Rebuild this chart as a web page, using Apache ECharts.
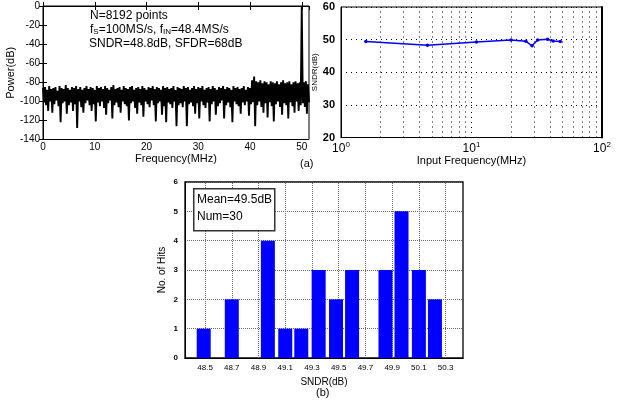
<!DOCTYPE html>
<html>
<head>
<meta charset="utf-8">
<script src="https://cdn.jsdelivr.net/npm/echarts@6/dist/echarts.min.js"></script>
<style>
html,body{margin:0;padding:0;background:#fff;}
#c{width:617px;height:403px;}
</style>
</head>
<body>
<div id="c"></div>
<script>
// ---- Spectrum (panel a, left) ----
const specStep = 0.4; // MHz between successive upper-envelope samples
const noiseUpper = [
 -86,-85,-88,-84,-87,-86,-85,-89,-84,-86,
 -87,-83,-86,-88,-85,-86,-84,-87,-85,-88,
 -86,-84,-87,-85,-86,-88,-84,-86,-85,-87,
 -84,-86,-88,-85,-83,-87,-86,-85,-88,-84,
 -86,-87,-85,-84,-88,-86,-85,-87,-84,-86,
 -88,-85,-86,-84,-87,-85,-86,-88,-84,-86,
 -85,-87,-86,-84,-88,-85,-86,-87,-84,-86,
 -85,-88,-86,-84,-87,-85,-86,-84,-88,-86,
 -85,-87,-84,-86,-88,-85,-86,-84,-87,-85,
 -86,-88,-84,-86,-85,-87,-86,-84,-88,-85,
 -86,-78,-74,-79,-80,-78,-81,-79,-80,-82,
 -79,-80,-81,-79,-82,-80,-78,-81,-80,-79,
 -82,-80,-79,-81,-80,-1,-80,-79,-82
];
const noiseLower = [
 -101,-104,-110,-100,-112,-103,-99,-105,-122,-102,
 -100,-113,-104,-101,-110,-103,-128,-100,-106,-112,
 -102,-99,-104,-110,-103,-121,-101,-105,-100,-107,
 -114,-102,-99,-118,-104,-101,-106,-112,-100,-103,
 -105,-120,-102,-100,-107,-113,-101,-104,-116,-100,
 -103,-106,-99,-104,-121,-102,-100,-114,-105,-122,
 -101,-103,-107,-100,-126,-104,-102,-106,-100,-126,
 -103,-101,-105,-113,-102,-118,-100,-104,-107,-101,
 -121,-103,-100,-114,-105,-102,-99,-118,-104,-101,
 -106,-122,-100,-103,-105,-113,-101,-104,-100,-115,
 -103,-101,-126,-104,-100,-106,-112,-102,-117,-101,
 -105,-121,-103,-100,-106,-114,-102,-104,-118,-101,
 -105,-112,-100,-110,-104,-102,-106,-113,-101
];

// ---- SNDR vs input frequency (panel a, right) ----
const inputFreq = [1.55, 4.6, 10.9, 20.1, 26.1, 29.1, 32.1, 38.3, 42.2, 47.9];
const sndrVals  = [49.4, 48.3, 49.3, 49.9, 49.5, 48.1, 49.9, 50.1, 49.6, 49.4];
const logMinorGrid = [2,3,4,5,6,7,8,9,20,30,40,50,60,70,80,90];

// ---- Histogram (panel b) ----
const histCenters = [48.49, 48.70, 48.97, 49.10, 49.22, 49.35, 49.48, 49.60, 49.85, 49.97, 50.10, 50.22];
const histCounts  = [1, 2, 4, 1, 1, 3, 2, 3, 3, 5, 3, 2];
const histTicks   = [48.5, 48.7, 48.9, 49.1, 49.3, 49.5, 49.7, 49.9, 50.1, 50.3];

const FONT = 'Liberation Sans, Arial, sans-serif';

const specData = [];
for (let i = 0; i < noiseUpper.length; i++) {
  specData.push([i * specStep, noiseUpper[i]]);
  specData.push([i * specStep + specStep / 2, noiseLower[i]]);
}
const sndrData = inputFreq.map((f, i) => [f, sndrVals[i]]);
const histData = histCenters.map((c, i) => [c, histCounts[i]]);

const chart = echarts.init(document.getElementById('c'), null, {renderer: 'canvas'});

const blackLine = {show: true, lineStyle: {color: '#000'}};
const option = {
  animation: false,
  backgroundColor: '#fff',
  textStyle: {fontFamily: FONT, color: '#000'},
  grid: [
    {left: 43, top: 6, width: 266, height: 133.5, show: true, borderColor: '#000', borderWidth: 1, backgroundColor: 'transparent'},
    {left: 341, top: 7, width: 261, height: 130.5, show: true, borderColor: '#000', borderWidth: 1, backgroundColor: 'transparent'},
    {left: 185, top: 182, width: 278, height: 176, show: true, borderColor: '#000', borderWidth: 1.3, backgroundColor: 'transparent'}
  ],
  xAxis: [
    {
      gridIndex: 0, type: 'value', min: 0, max: 51.4, interval: 10,
      axisLine: blackLine,
      axisTick: {show: true, inside: true, length: 4, lineStyle: {color: '#000'}},
      axisLabel: {fontSize: 10, color: '#000', margin: 3, showMaxLabel: false, fontFamily: FONT},
      splitLine: {show: false},
      name: 'Frequency(MHz)', nameLocation: 'middle', nameGap: 12,
      nameTextStyle: {fontSize: 11, color: '#000', fontFamily: FONT}
    },
    {
      gridIndex: 1, type: 'log', logBase: 10, min: 1, max: 100,
      axisLine: blackLine,
      axisTick: {show: false},
      axisLabel: {
        margin: 3, color: '#000',
        formatter: v => '{b|10}{s|' + Math.round(Math.log10(v)) + '}',
        rich: {
          b: {fontSize: 12, lineHeight: 14, fontFamily: FONT, color: '#000', verticalAlign: 'bottom'},
          s: {fontSize: 8, lineHeight: 8, fontFamily: FONT, color: '#000', verticalAlign: 'top'}
        }
      },
      splitLine: {show: true, lineStyle: {color: '#000', type: [1, 4], width: 1}},
      name: 'Input Frequency(MHz)', nameLocation: 'middle', nameGap: 15,
      nameTextStyle: {fontSize: 11, color: '#000', fontFamily: FONT}
    },
    {
      gridIndex: 2, type: 'value', min: 48.35, max: 50.43,
      axisLine: blackLine,
      axisTick: {show: false},
      axisLabel: {
        customValues: histTicks, fontSize: 8, color: '#000', margin: 6, fontFamily: FONT,
        formatter: v => v.toFixed(1)
      },
      splitLine: {show: false},
      name: 'SNDR(dB)', nameLocation: 'middle', nameGap: 19,
      nameTextStyle: {fontSize: 10, color: '#000', fontFamily: FONT}
    },
    {
      gridIndex: 0, type: 'value', min: 0, max: 51.4, interval: 10, position: 'top',
      axisLine: blackLine,
      axisTick: {show: true, inside: true, length: 4, lineStyle: {color: '#000'}},
      axisLabel: {show: false}, splitLine: {show: false}
    }
  ],
  yAxis: [
    {
      gridIndex: 0, type: 'value', min: -140, max: 0, interval: 20,
      axisLine: blackLine,
      axisTick: {show: true, inside: true, length: 4, lineStyle: {color: '#000'}},
      axisLabel: {fontSize: 10, color: '#000', margin: 3, fontFamily: FONT},
      splitLine: {show: false},
      name: 'Power(dB)', nameLocation: 'middle', nameGap: 25,
      nameTextStyle: {fontSize: 11, color: '#000', fontFamily: FONT}
    },
    {
      gridIndex: 1, type: 'value', min: 20, max: 60, interval: 10,
      axisLine: blackLine,
      axisTick: {show: false},
      axisLabel: {fontSize: 11, fontWeight: 'bold', color: '#000', margin: 6, fontFamily: FONT},
      splitLine: {show: true, lineStyle: {color: '#000', type: [1, 4], width: 1}},
      name: 'SNDR(dB)', nameLocation: 'middle', nameGap: 19,
      nameTextStyle: {fontSize: 8, color: '#000', fontFamily: FONT}
    },
    {
      gridIndex: 2, type: 'value', min: 0, max: 6, interval: 1,
      axisLine: blackLine,
      axisTick: {show: false},
      axisLabel: {fontSize: 8, fontWeight: 'bold', color: '#000', margin: 7, fontFamily: FONT},
      splitLine: {show: true, lineStyle: {color: '#666', type: [1, 1], width: 1}},
      name: 'No. of Hits', nameLocation: 'middle', nameGap: 18,
      nameTextStyle: {fontSize: 10, color: '#000', fontFamily: FONT}
    },
    {
      gridIndex: 0, type: 'value', min: -140, max: 0, interval: 20, position: 'right',
      axisLine: blackLine,
      axisTick: {show: true, inside: true, length: 4, lineStyle: {color: '#000'}},
      axisLabel: {show: false}, splitLine: {show: false}
    },
    {
      gridIndex: 1, type: 'value', min: 20, max: 60, interval: 10, position: 'right',
      axisLine: {show: true, lineStyle: {color: '#000', width: 2}},
      axisTick: {show: false}, axisLabel: {show: false}, splitLine: {show: false}
    }
  ],
  series: [
    {
      type: 'line', xAxisIndex: 0, yAxisIndex: 0, data: specData,
      showSymbol: false, symbol: 'none', clip: true,
      lineStyle: {color: '#000', width: 1.9, join: 'bevel'}, silent: true
    },
    {
      type: 'line', xAxisIndex: 1, yAxisIndex: 1, data: sndrData,
      symbol: 'circle', symbolSize: 3.5,
      itemStyle: {color: '#0000ff'},
      lineStyle: {color: '#0000ff', width: 1.5}, z: 5,
      markLine: {
        silent: true, symbol: 'none', z: 1,
        label: {show: false},
        lineStyle: {color: '#000', type: [1, 4], width: 1},
        data: logMinorGrid.map(v => ({xAxis: v}))
      }
    },
    {
      type: 'line', xAxisIndex: 2, yAxisIndex: 2, data: [], z: 1,
      markLine: {
        silent: true, symbol: 'none', z: 1,
        label: {show: false},
        lineStyle: {color: '#666', type: [1, 1], width: 1},
        data: histTicks.map(v => ({xAxis: v}))
      }
    },
    {
      type: 'bar', xAxisIndex: 2, yAxisIndex: 2, data: histData,
      barWidth: 14, itemStyle: {color: '#0000ff'}, z: 5
    }
  ],
  graphic: [
    {type: 'text', left: 90, top: 10, z: 10, style: {text: 'N=8192 points', font: '12px ' + FONT, fill: '#000'}},
    {type: 'text', left: 90, top: 24, z: 10, style: {
      text: '{n|f}{sub|S}{n|=100MS/s, f}{sub|IN}{n|=48.4MS/s}',
      rich: {
        n: {fontSize: 12, lineHeight: 14, fontFamily: FONT, fill: '#000', verticalAlign: 'bottom'},
        sub: {fontSize: 8, lineHeight: 8, fontFamily: FONT, fill: '#000', verticalAlign: 'bottom'}
      }
    }},
    {type: 'text', left: 89, top: 38, z: 10, style: {text: 'SNDR=48.8dB, SFDR=68dB', font: '12px ' + FONT, fill: '#000'}},
    {type: 'text', left: 300, top: 158, z: 10, style: {text: '(a)', font: '11px ' + FONT, fill: '#000'}},
    {type: 'rect', left: 193, top: 188, z: 10, shape: {width: 81, height: 42}, style: {fill: '#fff', stroke: '#333', lineWidth: 1.5}},
    {type: 'text', left: 197, top: 194, z: 11, style: {text: 'Mean=49.5dB', font: '12px ' + FONT, fill: '#000'}},
    {type: 'text', left: 197, top: 211, z: 11, style: {text: 'Num=30', font: '12px ' + FONT, fill: '#000'}},
    {type: 'text', left: 316, top: 387, z: 10, style: {text: '(b)', font: '11px ' + FONT, fill: '#000'}}
  ]
};
chart.setOption(option);
</script>
</body>
</html>
